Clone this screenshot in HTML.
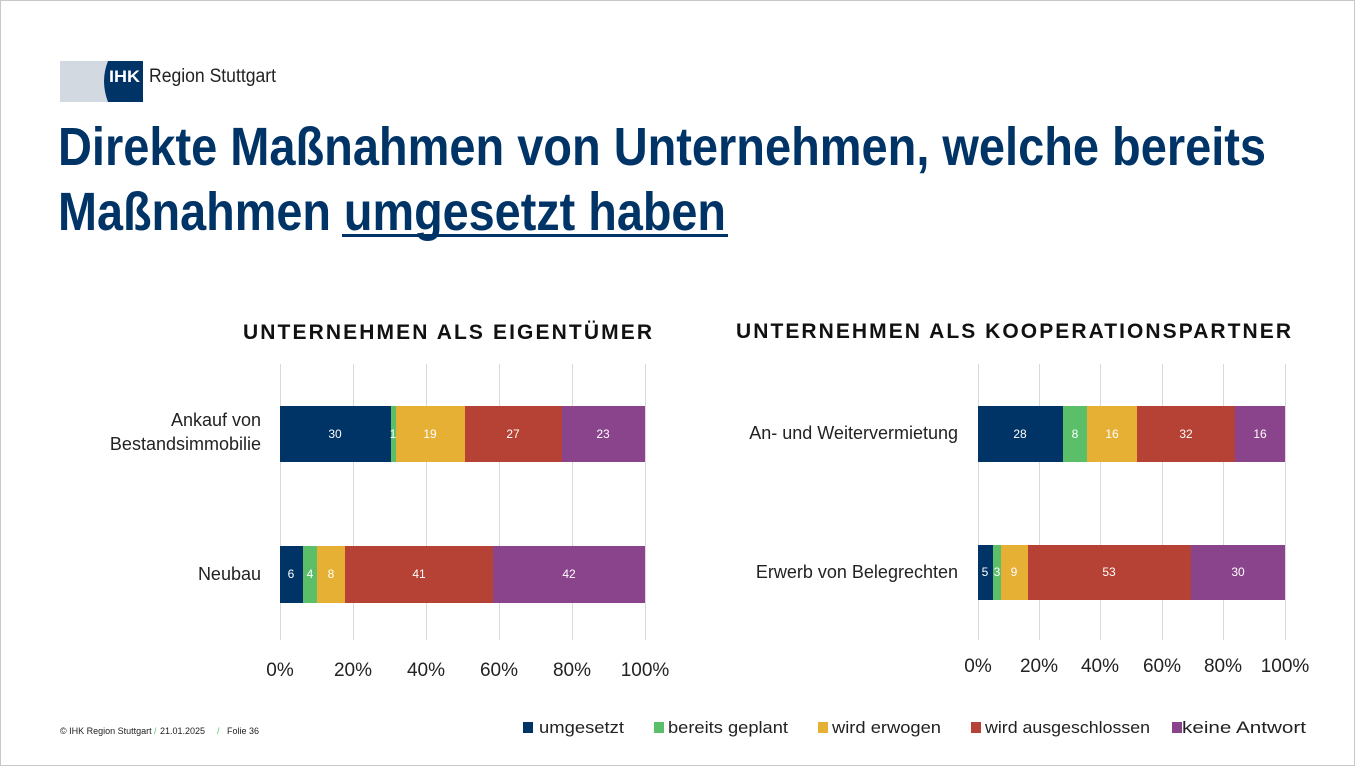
<!DOCTYPE html>
<html><head><meta charset="utf-8"><style>
html,body{margin:0;padding:0;background:#fff;}
svg{display:block;}
</style></head><body>
<svg width="1355" height="766" viewBox="0 0 1355 766" xmlns="http://www.w3.org/2000/svg">
<rect x="0.5" y="0.5" width="1354" height="765" fill="#fff" stroke="#c8c8c8"/>
<!-- logo -->
<path d="M60,61 H108 Q100,81 108,102 H60 Z" fill="#d3d9e1"/>
<path d="M108,61 H143 V102 H108 Q100,81 108,61 Z" fill="#003366"/>
<text x="109" y="82" font-family="Liberation Sans, sans-serif" font-weight="bold" font-size="17" fill="#fff" textLength="31" lengthAdjust="spacingAndGlyphs">IHK</text>
<text x="149" y="82" font-family="Liberation Sans Narrow, Liberation Sans, sans-serif" font-size="19" fill="#222" textLength="127" lengthAdjust="spacingAndGlyphs">Region Stuttgart</text>
<!-- title -->
<g font-family="Liberation Sans Narrow, Liberation Sans, sans-serif" font-weight="bold" font-size="54" fill="#003366">
<text x="58" y="165" textLength="1208" lengthAdjust="spacingAndGlyphs">Direkte Maßnahmen von Unternehmen, welche bereits</text>
<text x="58" y="230" textLength="668" lengthAdjust="spacingAndGlyphs">Maßnahmen umgesetzt haben</text>
</g>
<rect x="342" y="234" width="386" height="3" fill="#003366"/>
<!-- subtitles -->
<g font-family="Liberation Sans Narrow, Liberation Sans, sans-serif" font-weight="bold" font-size="21" fill="#111">
<text x="243" y="339" textLength="409" lengthAdjust="spacing">UNTERNEHMEN ALS EIGENTÜMER</text>
<text x="736" y="338" textLength="555" lengthAdjust="spacing">UNTERNEHMEN ALS KOOPERATIONSPARTNER</text>
</g>
<!-- grids -->
<g stroke="#d9d9d9" stroke-width="1">
<line x1="280.5" y1="364" x2="280.5" y2="640"/><line x1="353.5" y1="364" x2="353.5" y2="640"/><line x1="426.5" y1="364" x2="426.5" y2="640"/><line x1="499.5" y1="364" x2="499.5" y2="640"/><line x1="572.5" y1="364" x2="572.5" y2="640"/><line x1="645.5" y1="364" x2="645.5" y2="640"/>
<line x1="978.5" y1="364" x2="978.5" y2="640"/><line x1="1039.5" y1="364" x2="1039.5" y2="640"/><line x1="1100.5" y1="364" x2="1100.5" y2="640"/><line x1="1162.5" y1="364" x2="1162.5" y2="640"/><line x1="1223.5" y1="364" x2="1223.5" y2="640"/><line x1="1285.5" y1="364" x2="1285.5" y2="640"/>
</g>
<!-- bars left -->
<rect x="280" y="406" width="111" height="56" fill="#003366"/>
<rect x="391" y="406" width="5" height="56" fill="#5abf68"/>
<rect x="396" y="406" width="69" height="56" fill="#e6b035"/>
<rect x="465" y="406" width="97" height="56" fill="#b54234"/>
<rect x="562" y="406" width="83" height="56" fill="#8a448c"/>
<rect x="280" y="546" width="23" height="57" fill="#003366"/>
<rect x="303" y="546" width="14" height="57" fill="#5abf68"/>
<rect x="317" y="546" width="28" height="57" fill="#e6b035"/>
<rect x="345" y="546" width="148" height="57" fill="#b54234"/>
<rect x="493" y="546" width="152" height="57" fill="#8a448c"/>
<!-- bars right -->
<rect x="978" y="406" width="85" height="56" fill="#003366"/>
<rect x="1063" y="406" width="24" height="56" fill="#5abf68"/>
<rect x="1087" y="406" width="50" height="56" fill="#e6b035"/>
<rect x="1137" y="406" width="98" height="56" fill="#b54234"/>
<rect x="1235" y="406" width="50" height="56" fill="#8a448c"/>
<rect x="978" y="545" width="15" height="55" fill="#003366"/>
<rect x="993" y="545" width="8" height="55" fill="#5abf68"/>
<rect x="1001" y="545" width="27" height="55" fill="#e6b035"/>
<rect x="1028" y="545" width="163" height="55" fill="#b54234"/>
<rect x="1191" y="545" width="94" height="55" fill="#8a448c"/>
<!-- bar labels -->
<g font-family="Liberation Sans, sans-serif" font-size="12" fill="#fff" text-anchor="middle">
<text x="335" y="438">30</text><text x="393" y="438">1</text><text x="430" y="438">19</text><text x="513" y="438">27</text><text x="603" y="438">23</text>
<text x="291" y="578">6</text><text x="310" y="578">4</text><text x="331" y="578">8</text><text x="419" y="578">41</text><text x="569" y="578">42</text>
<text x="1020" y="438">28</text><text x="1075" y="438">8</text><text x="1112" y="438">16</text><text x="1186" y="438">32</text><text x="1260" y="438">16</text>
<text x="985" y="576">5</text><text x="997" y="576">3</text><text x="1014" y="576">9</text><text x="1109" y="576">53</text><text x="1238" y="576">30</text>
</g>
<!-- category labels -->
<g font-family="Liberation Sans, sans-serif" font-size="18" fill="#222" text-anchor="end">
<text x="261" y="426">Ankauf von</text>
<text x="261" y="450">Bestandsimmobilie</text>
<text x="261" y="580">Neubau</text>
<text x="958" y="439">An- und Weitervermietung</text>
<text x="958" y="578">Erwerb von Belegrechten</text>
</g>
<!-- ticks -->
<g font-family="Liberation Sans, sans-serif" font-size="19" fill="#222" text-anchor="middle">
<text x="280" y="676">0%</text><text x="353" y="676">20%</text><text x="426" y="676">40%</text><text x="499" y="676">60%</text><text x="572" y="676">80%</text><text x="645" y="676">100%</text>
<text x="978" y="672">0%</text><text x="1039" y="672">20%</text><text x="1100" y="672">40%</text><text x="1162" y="672">60%</text><text x="1223" y="672">80%</text><text x="1285" y="672">100%</text>
</g>
<!-- footer -->
<g font-family="Liberation Sans Narrow, Liberation Sans, sans-serif" font-size="9" fill="#222">
<text x="60" y="734">© IHK Region Stuttgart</text>
<text x="154" y="734" fill="#5abf68">/</text>
<text x="160" y="734">21.01.2025</text>
<text x="217" y="734" fill="#5abf68">/</text>
<text x="227" y="734">Folie 36</text>
</g>
<!-- legend -->
<g font-family="Liberation Sans, sans-serif" font-size="17" fill="#222">
<rect x="523" y="722" width="10" height="11" fill="#003366"/><text x="539" y="733" textLength="85" lengthAdjust="spacingAndGlyphs">umgesetzt</text>
<rect x="654" y="722" width="10" height="11" fill="#5abf68"/><text x="668" y="733" textLength="120" lengthAdjust="spacingAndGlyphs">bereits geplant</text>
<rect x="818" y="722" width="10" height="11" fill="#e6b035"/><text x="832" y="733" textLength="109" lengthAdjust="spacingAndGlyphs">wird erwogen</text>
<rect x="971" y="722" width="10" height="11" fill="#b54234"/><text x="985" y="733" textLength="165" lengthAdjust="spacingAndGlyphs">wird ausgeschlossen</text>
<rect x="1172" y="722" width="10" height="11" fill="#8a448c"/><text x="1182" y="733" textLength="124" lengthAdjust="spacingAndGlyphs">keine Antwort</text>
</g>
</svg>
</body></html>
